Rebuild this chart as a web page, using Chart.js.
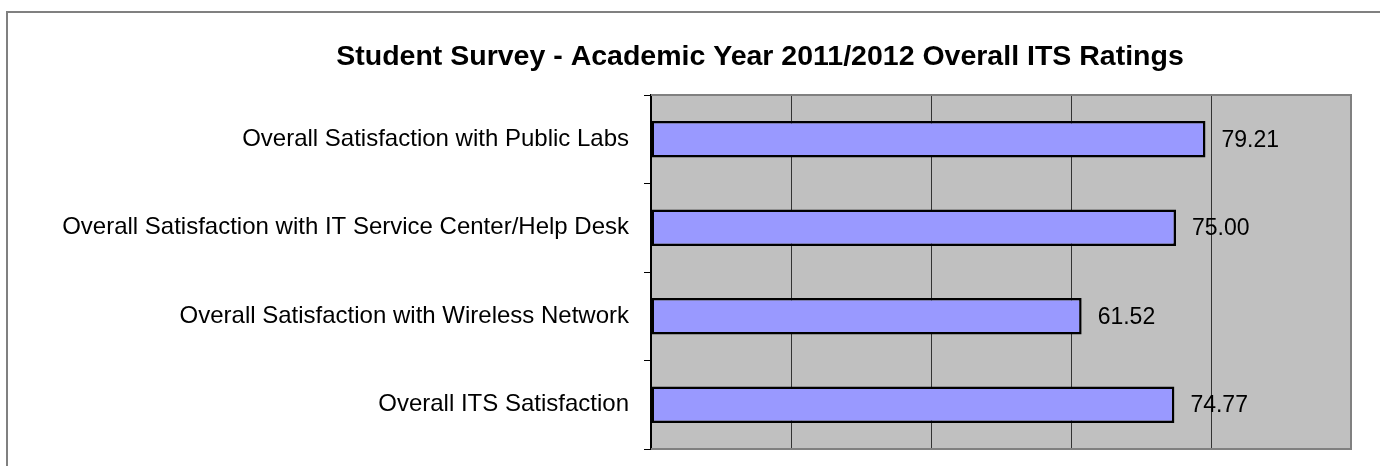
<!DOCTYPE html>
<html>
<head>
<meta charset="utf-8">
<script src="https://cdn.jsdelivr.net/npm/chart.js@4/dist/chart.umd.min.js"></script>
<style>
  html, body { margin: 0; padding: 0; background: #fff; overflow: hidden; }
  #wrap { width: 1380px; height: 466px; position: relative; }
</style>
</head>
<body>
<div id="wrap"><canvas id="myChart"></canvas></div>
<script>
// ---- data ----
const titleText = 'Student Survey - Academic Year 2011/2012 Overall ITS Ratings';
const categories = [
  'Overall Satisfaction with Public Labs',
  'Overall Satisfaction with IT Service Center/Help Desk',
  'Overall Satisfaction with Wireless Network',
  'Overall ITS Satisfaction'
];
const ratings = [79.21, 75.00, 61.52, 74.77];
const xMin = 0, xMax = 100, xStep = 20;

const FONT = '"Liberation Sans", Arial, Helvetica, sans-serif';

//----PLUGINS----
const frameAndBg = {
  id: 'frameAndBg',
  beforeDraw(chart) {
    const { ctx, chartArea: { top, bottom, left, right } } = chart;
    ctx.save();
    // outer chart frame (runs off the right and bottom edges)
    ctx.strokeStyle = '#808080';
    ctx.lineWidth = 2;
    ctx.beginPath();
    ctx.moveTo(7, 480);
    ctx.lineTo(7, 12);
    ctx.lineTo(1400, 12);
    ctx.stroke();
    // plot area fill
    ctx.fillStyle = '#C0C0C0';
    ctx.fillRect(left, top, right - left, bottom - top);
    ctx.restore();
  },
  beforeDatasetsDraw(chart) {
    const { ctx, chartArea: { top, bottom, left, right } } = chart;
    ctx.save();
    ctx.strokeStyle = '#808080';
    ctx.lineWidth = 2;
    ctx.beginPath();
    ctx.moveTo(left, top);
    ctx.lineTo(right, top);
    ctx.lineTo(right, bottom);
    ctx.lineTo(left, bottom);
    ctx.stroke();
    ctx.restore();
  }
};

const titlePlugin = {
  id: 'titlePlugin',
  afterDraw(chart) {
    const { ctx } = chart;
    ctx.save();
    ctx.font = 'bold 28.5px ' + FONT;
    ctx.fillStyle = '#000';
    ctx.textAlign = 'center';
    ctx.textBaseline = 'middle';
    ctx.fillText(titleText, 760, 57);
    ctx.restore();
  }
};

const valueLabels = {
  id: 'valueLabels',
  afterDatasetsDraw(chart) {
    const { ctx } = chart;
    const meta = chart.getDatasetMeta(0);
    ctx.save();
    ctx.font = '23px ' + FONT;
    ctx.fillStyle = '#000';
    ctx.textAlign = 'left';
    ctx.textBaseline = 'middle';
    meta.data.forEach((bar, i) => {
      ctx.fillText(ratings[i].toFixed(2), bar.x + 16, bar.y + 1);
    });
    ctx.restore();
  }
};

//----CONFIG----
const config = {
  type: 'bar',
  data: {
    labels: categories,
    datasets: [{
      data: ratings,
      backgroundColor: '#9999FF',
      borderColor: '#000000',
      borderWidth: 2.5,
      borderSkipped: false,
      barPercentage: 0.41,
      categoryPercentage: 1
    }]
  },
  options: {
    indexAxis: 'y',
    responsive: true,
    maintainAspectRatio: false,
    animation: false,
    layout: { padding: { left: 0, top: 95, right: 29, bottom: 17 } },
    scales: {
      x: {
        min: xMin,
        max: xMax,
        afterFit: (scale) => { scale.height = 0; },
        ticks: { display: false, stepSize: xStep },
        grid: {
          drawTicks: false,
          color: (c) => (c.tick && (c.tick.value === xMin || c.tick.value === xMax)) ? 'rgba(0,0,0,0)' : '#333333',
          lineWidth: 1
        },
        border: { display: false }
      },
      y: {
        afterFit: (scale) => {
          scale.width = 651;
          scale.paddingTop = 0;
          scale.paddingBottom = 0;
        },
        ticks: {
          color: '#000',
          font: { family: FONT, size: 24 },
          padding: 15
        },
        grid: {
          drawOnChartArea: false,
          drawTicks: true,
          tickLength: 7,
          color: '#000',
          offset: true
        },
        border: { display: true, color: '#000', width: 2 }
      }
    },
    plugins: {
      legend: { display: false },
      title: { display: false },
      tooltip: { enabled: false }
    }
  },
  plugins: [frameAndBg, valueLabels, titlePlugin]
};

const myChart = new Chart(document.getElementById('myChart'), config);
</script>
</body>
</html>
